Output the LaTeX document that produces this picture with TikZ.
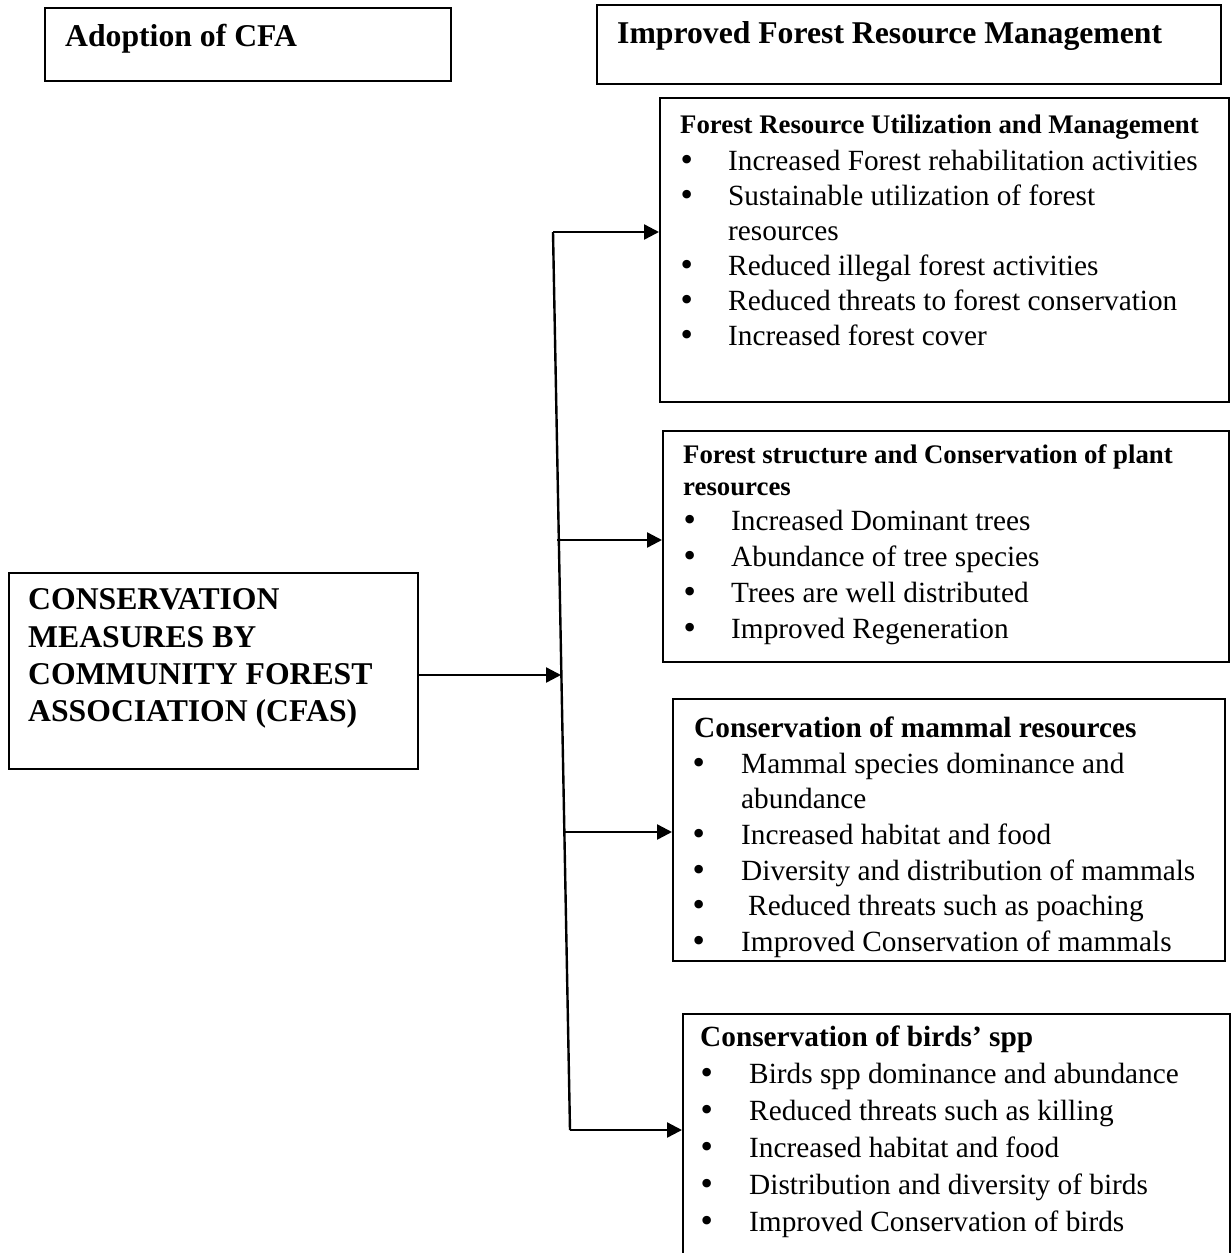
\documentclass[tikz,border=0pt]{standalone}
\usepackage{fontspec}
\setmainfont{Liberation Serif}
\newfontfamily\bulfont{DejaVu Sans}
\usetikzlibrary{arrows.meta}
\newcommand\fbody{\fontsize{29.3}{35}\selectfont}
\newcommand\fsub{\bfseries\fontsize{26.8}{32}\selectfont}
\newcommand\fsubL{\bfseries\fontsize{29.3}{35}\selectfont}
\newcommand\fbig{\bfseries\fontsize{31.7}{37}\selectfont}
\newcommand\fbul{\bulfont\fontsize{29.3}{35}\selectfont}
% bullet item: name, bullet centre x, text x, centre y, text
\newcommand\bitem[5]{%
  \node[bul] (#1b) at (#2,#4+9) {\fbul •};
  \node[txt] (#1) at (#3,#4+9) {\fbody #5};}
\begin{document}
\begin{tikzpicture}[x=1pt,y=-1pt,
  box/.style={draw, line width=1.8pt, anchor=north west, inner sep=0pt},
  txt/.style={anchor=base west, inner sep=0pt},
  bul/.style={anchor=base, inner sep=0pt},
  arr/.style={line width=2.4pt, -{Triangle[length=15pt,width=15pt]}},
  trunk/.style={line width=2.4pt}]
\useasboundingbox (0,0) rectangle (1231,1253);
\clip (0,0) rectangle (1231,1253);
\fill[white] (0,0) rectangle (1231,1253);

% top boxes
\node[box, minimum width=406pt, minimum height=73pt] (adopt) at (44,7) {};
\node[txt] (adoptT) at (65,46) {\fbig Adoption of CFA};
\node[box, minimum width=624pt, minimum height=79pt] (ifrm) at (596,4) {};
\node[txt] (ifrmT) at (617,43) {\fbig Improved Forest Resource Management};

% left box
\node[box, minimum width=409pt, minimum height=196pt] (cons) at (8,572) {};
\node[txt] (c1) at (28,609) {\fbig CONSERVATION};
\node[txt] (c2) at (28,647) {\fbig MEASURES BY};
\node[txt] (c3) at (28,684) {\fbig COMMUNITY FOREST};
\node[txt] (c4) at (28,721) {\fbig ASSOCIATION (CFAS)};

% Forest Resource Utilization and Management
\node[box, minimum width=569pt, minimum height=304pt] (frum) at (659,97) {};
\node[txt] (frumH) at (680,133) {\fsub Forest Resource Utilization and Management};
\bitem{fa}{687}{728}{161}{Increased Forest rehabilitation activities}
\bitem{fb}{687}{728}{196}{Sustainable utilization of forest}
\node[txt] (fb2) at (728,240) {\fbody resources};
\bitem{fc}{687}{728}{266}{Reduced illegal forest activities}
\bitem{fd}{687}{728}{301}{Reduced threats to forest conservation}
\bitem{fe}{687}{728}{336}{Increased forest cover}

% Forest structure
\node[box, minimum width=566pt, minimum height=231pt] (fs) at (662,430) {};
\node[txt] (fsH1) at (683,463) {\fsub Forest structure and Conservation of plant};
\node[txt] (fsH2) at (683,495) {\fsub resources};
\bitem{sa}{690}{731}{521}{Increased Dominant trees}
\bitem{sb}{690}{731}{557}{Abundance of tree species}
\bitem{sc}{690}{731}{593}{Trees are well distributed}
\bitem{sd}{690}{731}{629}{Improved Regeneration}

% mammals
\node[box, minimum width=552pt, minimum height=262pt] (mam) at (672,698) {};
\node[txt] (mamH) at (694,737) {\fsubL Conservation of mammal resources};
\bitem{ma}{699}{741}{764}{Mammal species dominance and}
\node[txt] (ma2) at (741,808) {\fbody abundance};
\bitem{mb}{699}{741}{835}{Increased habitat and food}
\bitem{mc}{699}{741}{871}{Diversity and distribution of mammals}
\bitem{md}{699}{748}{906}{Reduced threats such as poaching}
\bitem{me}{699}{741}{942}{Improved Conservation of mammals}

% birds
\node[box, minimum width=547pt, minimum height=260pt] (bird) at (682,1013) {};
\node[txt] (birdH) at (700,1046) {\fsubL Conservation of birds’ spp};
\bitem{ba}{707}{749}{1074}{Birds spp dominance and abundance}
\bitem{bb}{707}{749}{1111}{Reduced threats such as killing}
\bitem{bc}{707}{749}{1148}{Increased habitat and food}
\bitem{bd}{707}{749}{1185}{Distribution and diversity of birds}
\bitem{be}{707}{749}{1222}{Improved Conservation of birds}

% connectors
\coordinate (vtop) at (553,232);
\coordinate (vbot) at (570,1130);
\coordinate (j2) at (557,540);
\coordinate (j3) at (561,675);
\coordinate (j4) at (565,832);
\draw[trunk] (vtop) -- (vbot);
\draw[arr] (vtop) -- (vtop -| frum.west);
\draw[arr] (j2) -- (j2 -| fs.west);
\draw[arr] (j3 -| cons.east) -- (j3);
\draw[arr] (j4) -- (j4 -| mam.west);
\draw[arr] (vbot) -- (vbot -| bird.west);
\end{tikzpicture}
\end{document}
